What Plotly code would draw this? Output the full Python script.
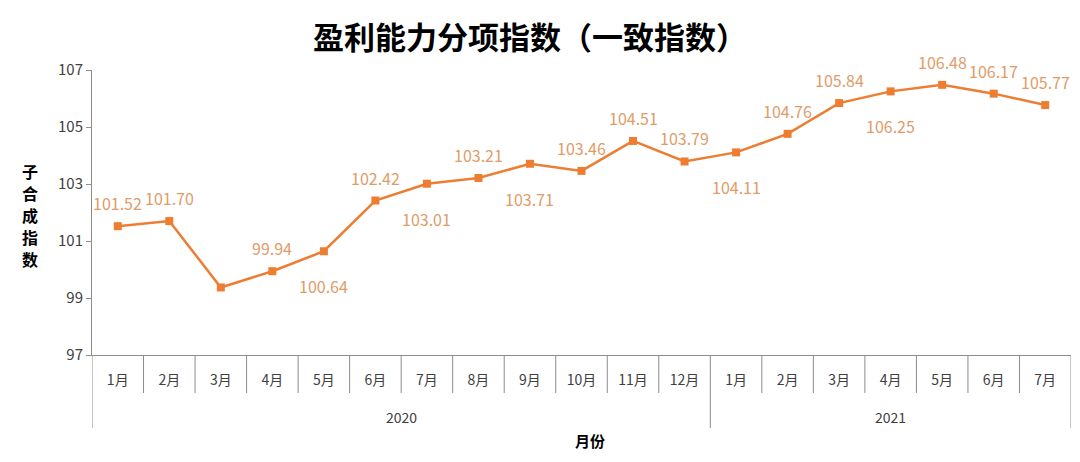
import plotly.graph_objects as go

years = ["2020", "2021"]
year_counts = [12, 7]
months = ["1月", "2月", "3月", "4月", "5月", "6月", "7月", "8月", "9月", "10月", "11月", "12月",
          "1月", "2月", "3月", "4月", "5月", "6月", "7月"]
values = [101.52, 101.70, 99.37, 99.94, 100.64, 102.42, 103.01, 103.21, 103.71, 103.46,
          104.51, 103.79, 104.11, 104.76, 105.84, 106.25, 106.48, 106.17, 105.77]
# label shown above (True) or below (False) the point; None = no label
label_above = [True, True, None, True, False, True, False, True, False, True,
               True, True, False, True, True, False, True, True, True]
y_title = "子合成指数"

line_color = "#ED7D31"
label_color = "#E09C68"
axis_color = "#8c8c8c"
font = "Noto Sans CJK SC"

# the page has an 8px body margin; keep the figure inside the window (no scrollbars)
W, H = 1064, 446
L, R, T, B = 84, 1, 62, 99
plot_h = H - T - B
plot_w = W - L - R

xs = list(range(len(months)))

fig = go.Figure()
fig.add_trace(go.Scatter(
    x=xs,
    y=values,
    mode="lines+markers",
    line=dict(color=line_color, width=2.5),
    marker=dict(symbol="square", size=8, color=line_color),
    showlegend=False,
))

for x, v, up in zip(xs, values, label_above):
    if up is None:
        continue
    fig.add_annotation(
        x=x, y=v, text=f"{v:.2f}", showarrow=False,
        yshift=23 if up else -35,
        font=dict(family=font, size=16, color=label_color),
    )

# category separators under the axis: short between months, long between years
year_edges = [-0.5]
for c in year_counts:
    year_edges.append(year_edges[-1] + c)
for i in range(len(months) + 1):
    edge = i - 0.5
    long_line = edge in year_edges
    fig.add_shape(
        type="line", xref="x", yref="paper",
        x0=edge, x1=edge, y0=0, y1=-(73 if long_line else 38) / plot_h,
        line=dict(color=axis_color, width=1),
    )

for yr, a, b in zip(years, year_edges[:-1], year_edges[1:]):
    fig.add_annotation(
        x=(a + b) / 2, y=-62 / plot_h, xref="x", yref="paper",
        text=yr, showarrow=False, yanchor="middle",
        font=dict(family=font, size=14, color="#404040"),
    )

fig.update_layout(
    width=W, height=H,
    margin=dict(l=L, r=R, t=T, b=B),
    plot_bgcolor="white", paper_bgcolor="white",
    title=dict(text="<b>盈利能力分项指数（一致指数）</b>", x=(530 - 8) / W, xanchor="center",
               y=1 - 30 / H, yanchor="middle",
               font=dict(family=font, size=31, color="#000000")),
    font=dict(family=font, color="#404040"),
)

fig.update_xaxes(
    range=[-0.5, len(months) - 0.5],
    tickmode="array", tickvals=xs, ticktext=months,
    showline=True, linecolor=axis_color, linewidth=1,
    ticks="outside", ticklen=12, tickcolor="rgba(0,0,0,0)",
    tickfont=dict(family=font, size=14, color="#404040"),
    showgrid=False, zeroline=False,
)
fig.update_yaxes(
    range=[97, 107], dtick=2, tick0=97,
    showline=True, linecolor=axis_color, linewidth=1,
    ticks="outside", ticklen=5, tickcolor=axis_color,
    tickfont=dict(family=font, size=15, color="#404040"),
    showgrid=False, zeroline=False,
)

# vertical axis title, one character per line (22px apart)
for k, ch in enumerate(y_title):
    fig.add_annotation(
        x=(22 - L) / plot_w, y=1 - (163 + 22 * k - T) / plot_h,
        xref="paper", yref="paper",
        text=f"<b>{ch}</b>", showarrow=False,
        font=dict(family=font, size=16, color="#000000"),
        xanchor="center", yanchor="middle",
    )
fig.add_annotation(
    x=(582 - L) / plot_w, y=-85 / plot_h, xref="paper", yref="paper",
    text="<b>月份</b>", showarrow=False,
    font=dict(family=font, size=15, color="#000000"),
    xanchor="center", yanchor="middle",
)

fig.write_html("out.html")
